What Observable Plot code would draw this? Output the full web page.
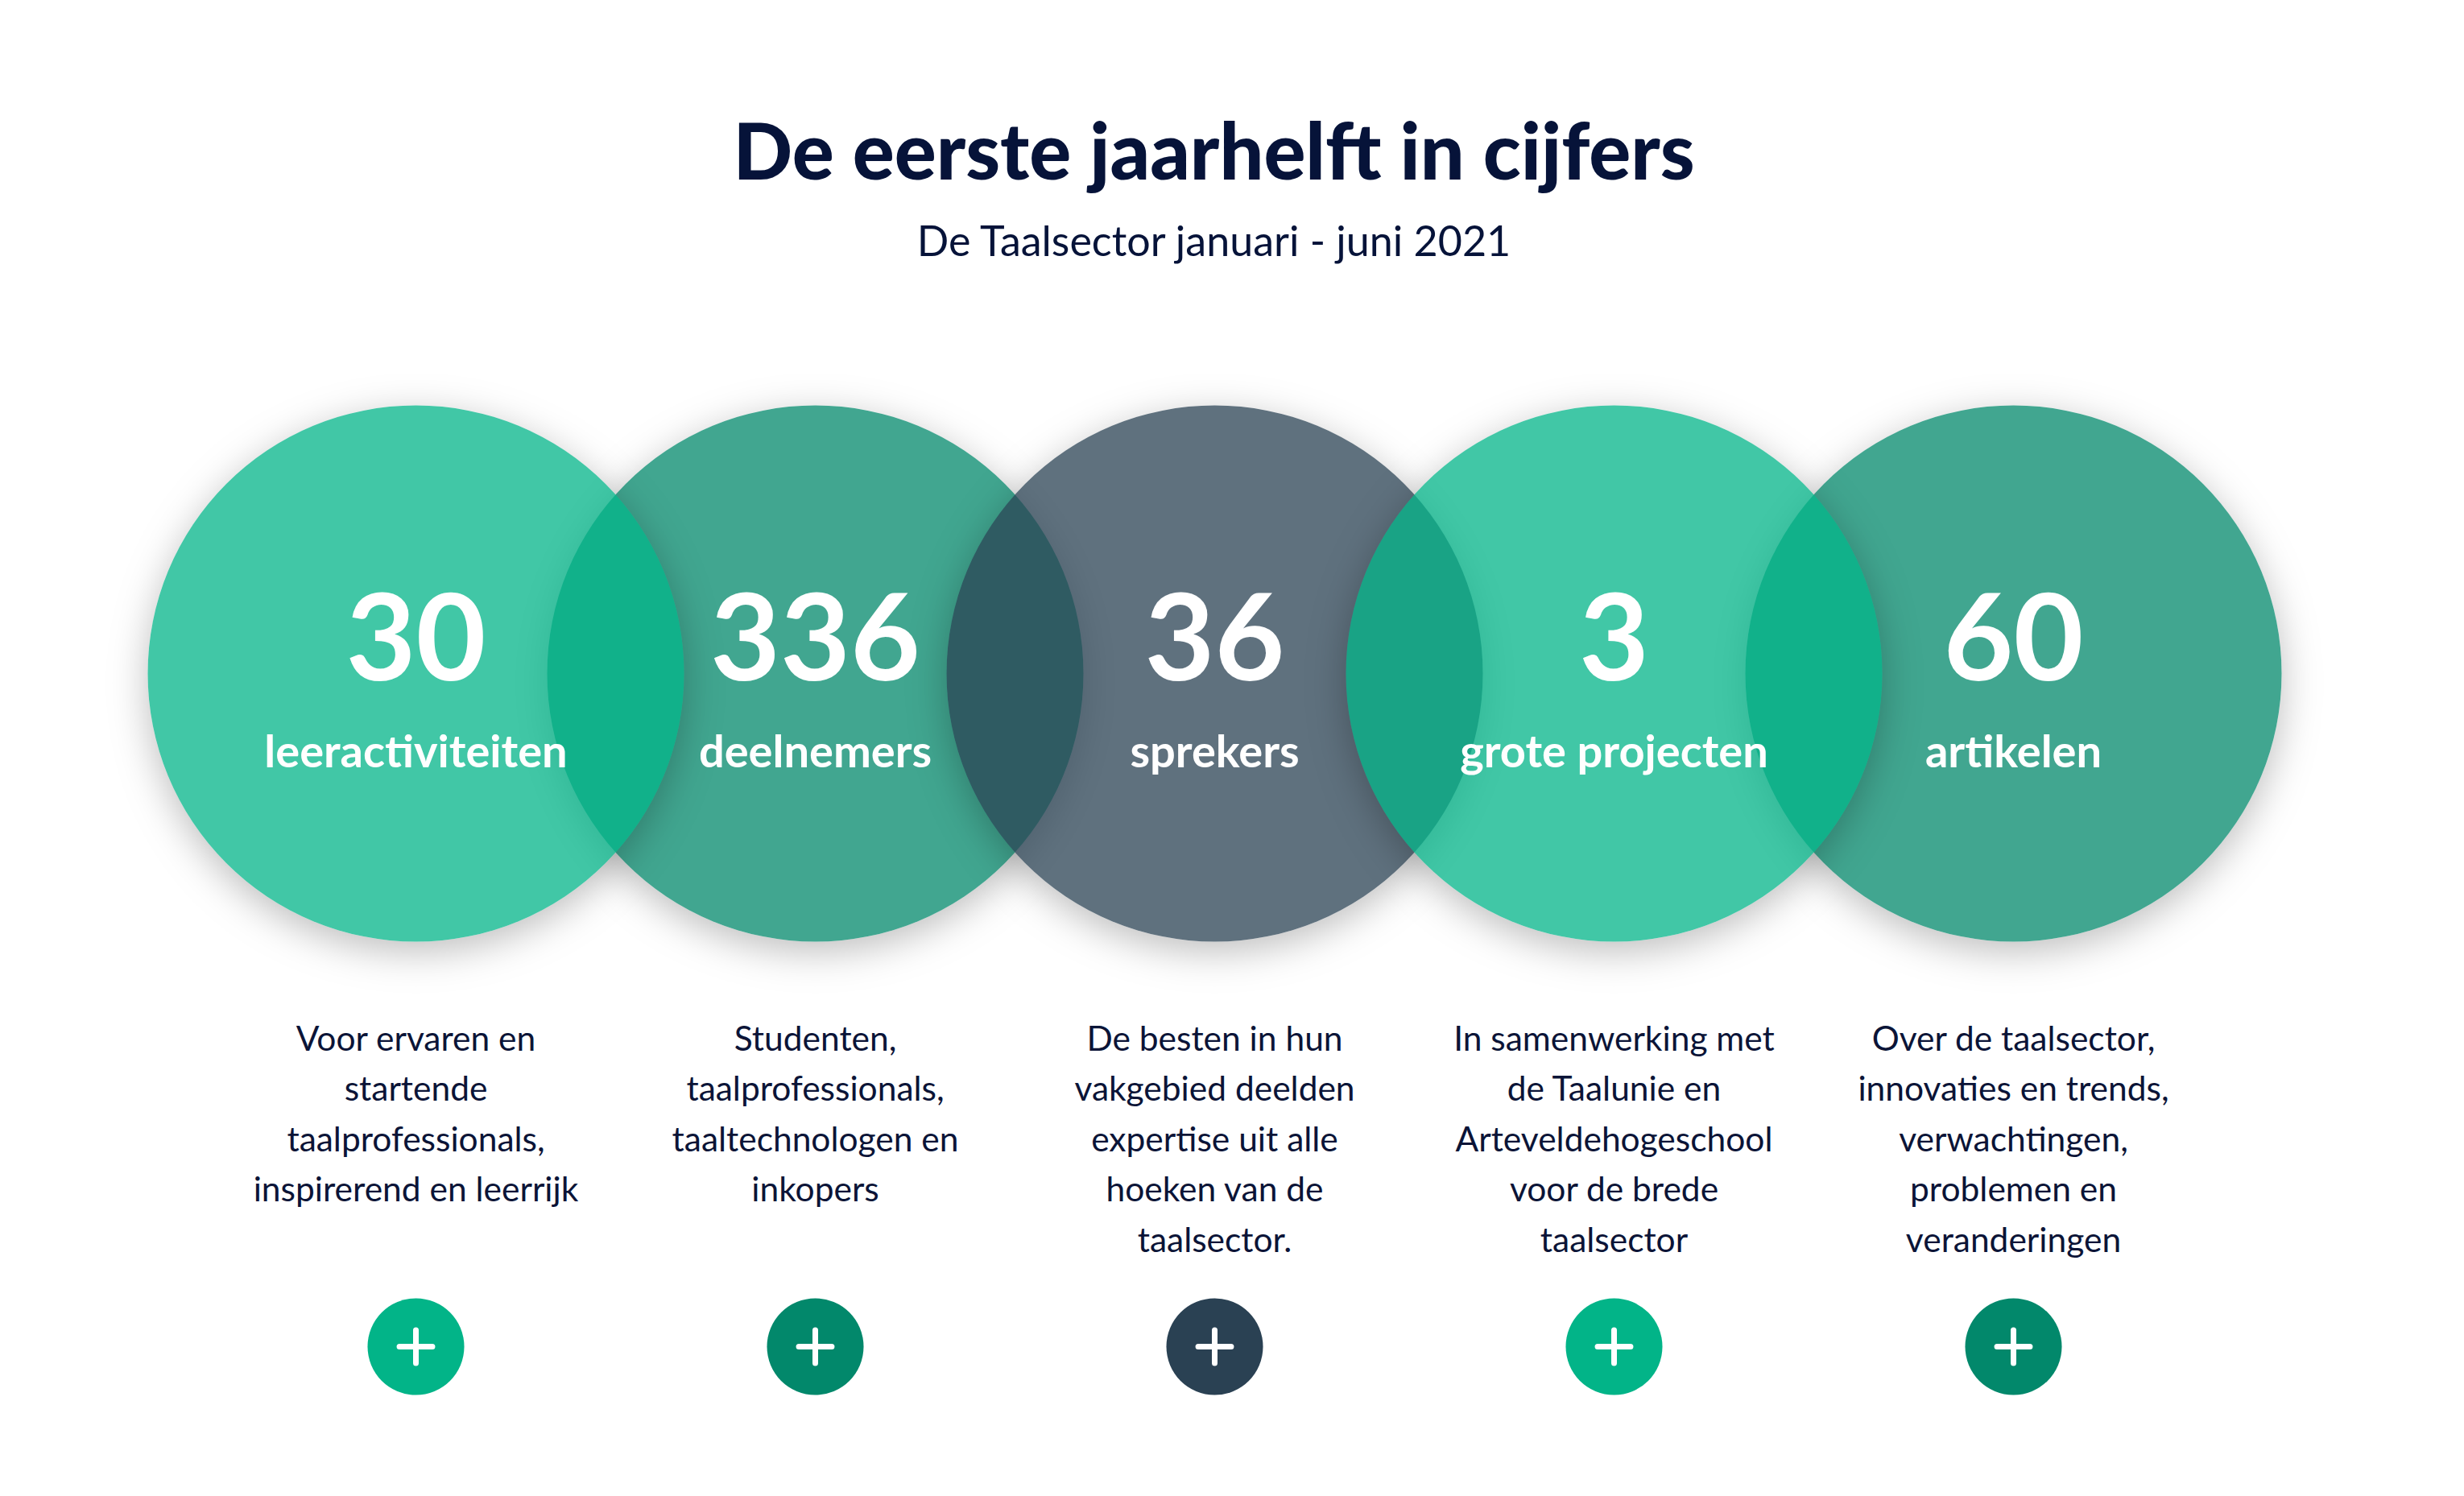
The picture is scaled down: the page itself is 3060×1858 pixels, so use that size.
<!DOCTYPE html>
<html>
<head>
<meta charset="utf-8">
<script src="https://cdn.jsdelivr.net/npm/d3@7"></script>
<script src="https://cdn.jsdelivr.net/npm/@observablehq/plot@0.6"></script>
<style>
  html, body { margin: 0; padding: 0; background: #ffffff; }
  body { width: 3060px; height: 1858px; overflow: hidden; font-family: Lato, "Open Sans", sans-serif; }
  #head { position: relative; height: 420px; width: 3015px; }
  #title { position: absolute; left: 0; right: 0; top: 137px; text-align: center;
           font: 900 97px/1 Lato; color: #061339; }
  #subtitle { position: absolute; left: 0; right: 0; top: 272px; text-align: center;
              font: 400 52px/1 Lato; color: #061339; }
</style>
</head>
<body>
<div id="head">
  <div id="title">De eerste jaarhelft in cijfers</div>
  <div id="subtitle">De Taalsector januari - juni 2021</div>
</div>
<div id="chart"></div>
<script>
const names = ["leeractiviteiten", "deelnemers", "sprekers", "grote projecten", "artikelen"];
const values = [30, 336, 36, 3, 60];
const descriptions = [
  "Voor ervaren en\nstartende\ntaalprofessionals,\ninspirerend en leerrijk",
  "Studenten,\ntaalprofessionals,\ntaaltechnologen en\ninkopers",
  "De besten in hun\nvakgebied deelden\nexpertise uit alle\nhoeken van de\ntaalsector.",
  "In samenwerking met\nde Taalunie en\nArteveldehogeschool\nvoor de brede\ntaalsector",
  "Over de taalsector,\ninnovaties en trends,\nverwachtingen,\nproblemen en\nveranderingen"
];
const tones = ["light", "dark", "slate", "light", "dark"];
const layers = [3, 0, 2, 4, 1];

const data = names.map((name, i) => ({
  name, value: values[i], desc: descriptions[i], tone: tones[i], layer: layers[i]
}));
const bubbles = d3.sort(data, d => d.layer);

const svg = Plot.plot({
  width: 3060,
  height: 1438,
  margin: 0,
  x: {type: "point", domain: names, range: [515, 2500], padding: 0, axis: null},
  y: {type: "point", domain: ["bubble", "desc", "button"], range: [415, 1252], padding: 0, axis: null},
  color: {domain: ["light", "dark", "slate"], range: ["#02b488", "#02886b", "#2a4153"]},
  marks: [
    Plot.dot(bubbles, {x: "name", y: () => "bubble", r: 333, fill: "tone", fillOpacity: 0.75, stroke: null, ariaDescription: "bubbles"}),
    Plot.text(data, {x: "name", y: () => "bubble", text: d => String(d.value), fontFamily: "Lato", fontSize: 150, fontWeight: 700, fill: "white", dy: -40}),
    Plot.text(data, {x: "name", y: () => "bubble", text: "name", fontFamily: "Lato", fontSize: 56, fontWeight: 700, fill: "white", dy: 99}),
    Plot.text(data, {x: "name", y: () => "desc", text: "desc", lineAnchor: "top", lineHeight: 1.47, fontFamily: "Lato", fontSize: 42.5, fill: "#0b1437", dy: 6}),
    Plot.dot(data, {x: "name", y: () => "button", r: 60, fill: "tone", stroke: null}),
    Plot.dot(data, {x: "name", y: () => "button", r: 13.2, symbol: "plus", stroke: "white", strokeWidth: 7, strokeLinecap: "round"})
  ]
});

const root = d3.select(svg);
const defs = root.insert("defs", ":first-child");
const f = defs.append("filter").attr("id", "bshadow")
  .attr("x", "-40%").attr("y", "-40%").attr("width", "180%").attr("height", "180%")
  .attr("color-interpolation-filters", "sRGB");
f.append("feComponentTransfer").attr("in", "SourceAlpha").attr("result", "mask")
  .append("feFuncA").attr("type", "linear").attr("slope", 1.3334);
f.append("feGaussianBlur").attr("in", "mask").attr("stdDeviation", 24).attr("result", "blur");
f.append("feOffset").attr("in", "blur").attr("dy", 12).attr("result", "off");
f.append("feFlood").attr("flood-color", "#000").attr("flood-opacity", 0.26).attr("result", "flood");
f.append("feComposite").attr("in", "flood").attr("in2", "off").attr("operator", "in").attr("result", "shadow");
f.append("feComposite").attr("in", "shadow").attr("in2", "mask").attr("operator", "out").attr("result", "outer");
const m = f.append("feMerge");
m.append("feMergeNode").attr("in", "outer");
m.append("feMergeNode").attr("in", "SourceGraphic");

let g = root.select('g[aria-description="bubbles"]');
if (g.empty()) g = root.select('g[aria-label="dot"]');
g.selectAll("circle").attr("filter", "url(#bshadow)");

document.getElementById("chart").appendChild(svg);
</script>
</body>
</html>
